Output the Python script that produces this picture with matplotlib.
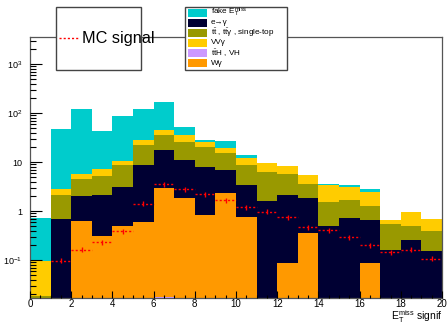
import numpy as np
import matplotlib
matplotlib.use("Agg")
import matplotlib.pyplot as plt
from matplotlib.patches import Rectangle
from matplotlib.lines import Line2D
from matplotlib.ticker import FixedLocator, FixedFormatter, LogLocator, MultipleLocator, NullFormatter

plt.rcParams['font.family'] = ['Liberation Sans', 'DejaVu Sans']
plt.rcParams['mathtext.fontset'] = 'custom'
plt.rcParams['mathtext.rm'] = 'Liberation Sans'
plt.rcParams['mathtext.it'] = 'Liberation Sans:italic'
plt.rcParams['mathtext.bf'] = 'Liberation Sans:bold'

# binning of the MET significance
edges = np.arange(0, 21)
centers = edges[:-1] + 0.5

# background yields per bin (stacked bottom -> top)
tth_vh     = [0, 0, 0, 0, 0, 0, 0.0175, 0, 0, 0, 0, 0, 0, 0, 0, 0, 0, 0, 0, 0]
w_gamma    = [0, 0, 0.62, 0.31, 0.51, 0.59, 3.0, 1.86, 0.82, 2.31, 0.76, 0, 0.088, 0.36, 0, 0, 0.088, 0, 0, 0]
e_to_gamma = [0, 0.70, 1.38, 1.86, 2.59, 8.0, 15.0, 9.3, 7.0, 4.6, 2.6, 1.58, 2.08, 1.5, 0.506, 0.71, 0.57, 0.164, 0.262, 0.151]
ttbar      = [0.019, 1.47, 2.6, 3.13, 5.8, 13.4, 18.4, 15.0, 12.2, 8.2, 5.5, 4.8, 3.6, 1.73, 1.05, 0.95, 0.59, 0.39, 0.23, 0.236]
vv_gamma   = [0.0755, 0.62, 1.14, 2.1, 1.5, 6.8, 9.6, 9.7, 5.8, 4.4, 3.3, 3.2, 2.7, 1.97, 1.87, 1.45, 1.25, 0.114, 0.49, 0.303]
fake_met   = [0.635, 44.8, 114, 36.6, 75.6, 91, 123, 17.1, 3.0, 7.1, 1.6, 0, 0, 0, 0.21, 0.25, 0.34, 0, 0, 0]

# signal MC
signal     = [0, 0.098, 0.164, 0.235, 0.387, 1.42, 3.59, 2.84, 2.2, 1.68, 1.22, 0.98, 0.76, 0.475, 0.406, 0.292, 0.201, 0.147, 0.164, 0.107]
signal_err = [0, 0.012, 0.02, 0.028, 0.045, 0.17, 0.42, 0.33, 0.26, 0.2, 0.14, 0.11, 0.09, 0.055, 0.047, 0.034, 0.023, 0.017, 0.019, 0.012]

stack = [
    (tth_vh,     '#cc99ff', r'$\mathrm{t\bar{t}H}$ , VH'),
    (w_gamma,    '#ff9900', 'Wγ'),
    (e_to_gamma, '#000033', 'e→γ'),
    (ttbar,      '#999900', r'$\mathrm{t\bar{t}}$ , $\mathrm{t\bar{t}}$γ , single-top'),
    (vv_gamma,   '#ffcc00', 'VVγ'),
    (fake_met,   '#00cccc', r'fake $\mathrm{E_{T}^{miss}}$'),
]
legend_order = [5, 2, 3, 4, 0, 1]

W, H = 448, 326
fig = plt.figure(figsize=(W / 100, H / 100), dpi=100)
ax = fig.add_axes([30 / W, 1 - 298 / H, (442 - 30) / W, (298 - 37) / H])

bottom = np.zeros(len(centers))
for vals, col, _ in stack:
    top = bottom + np.array(vals)
    ax.stairs(top, edges, baseline=bottom, fill=True, color=col, linewidth=0)
    bottom = top

m = np.array(signal) > 0
eb = ax.errorbar(centers[m], np.array(signal)[m], xerr=0.5, yerr=np.array(signal_err)[m],
                 fmt='none', ecolor='red', elinewidth=1)
eb.lines[2][0].set_linestyle((0, (1.5, 1.5)))

ax.set_yscale('log')
ax.set_xlim(0, 20)
ax.set_ylim(0.0169, 3590)

ax.yaxis.set_major_locator(FixedLocator([0.1, 1, 10, 100, 1000]))
ax.yaxis.set_major_formatter(FixedFormatter([r'$10^{-1}$', '1', '10', r'$10^{2}$', r'$10^{3}$']))
ax.yaxis.set_minor_locator(LogLocator(base=10, subs=np.arange(2, 10), numticks=20))
ax.yaxis.set_minor_formatter(NullFormatter())
ax.xaxis.set_major_locator(MultipleLocator(2))
ax.xaxis.set_minor_locator(MultipleLocator(0.5))

ax.tick_params(axis='y', which='major', direction='in', length=8.5, width=0.8, labelsize=6.5, pad=5.5)
ax.tick_params(axis='y', which='minor', direction='in', length=4.3, width=0.8)
ax.tick_params(axis='x', which='major', direction='in', length=4.7, width=0.8, labelsize=7, pad=1.0)
ax.tick_params(axis='x', which='minor', direction='in', length=2.4, width=0.8)
for s in ax.spines.values():
    s.set_color('#555555')
    s.set_linewidth(0.9)
ax.set_axisbelow(False)

ax.text(1.0, -0.085, r'$\mathrm{E_{T}^{miss}}$ signif', transform=ax.transAxes,
        ha='right', va='baseline', fontsize=7.5)


def fx(x):
    return x / W


def fy(y):
    return 1 - y / H


# signal legend box
fig.add_artist(Rectangle((fx(56), fy(70)), fx(141) - fx(56), fy(7) - fy(70), transform=fig.transFigure,
                         facecolor='white', edgecolor='#444444', linewidth=1))
fig.add_artist(Line2D([fx(59), fx(78)], [fy(38), fy(38)], transform=fig.transFigure,
                      color='red', linewidth=1, linestyle=(0, (1.5, 1.5))))
fig.text(fx(82), fy(38), 'MC signal', fontsize=11.7, ha='left', va='center')

# background legend box
fig.add_artist(Rectangle((fx(185), fy(70)), fx(287) - fx(185), fy(7) - fy(70), transform=fig.transFigure,
                         facecolor='white', edgecolor='#444444', linewidth=1))
for row, idx in enumerate(legend_order):
    _, col, label = stack[idx]
    yc = 12.7 + row * 10.1
    fig.add_artist(Rectangle((fx(188), fy(yc + 3.8)), fx(207) - fx(188), fy(yc - 3.8) - fy(yc + 3.8),
                             transform=fig.transFigure, facecolor=col, edgecolor='none'))
    fig.text(fx(211), fy(yc), label, fontsize=5.9, ha='left', va='center')

fig.savefig('out.png', dpi=100)
